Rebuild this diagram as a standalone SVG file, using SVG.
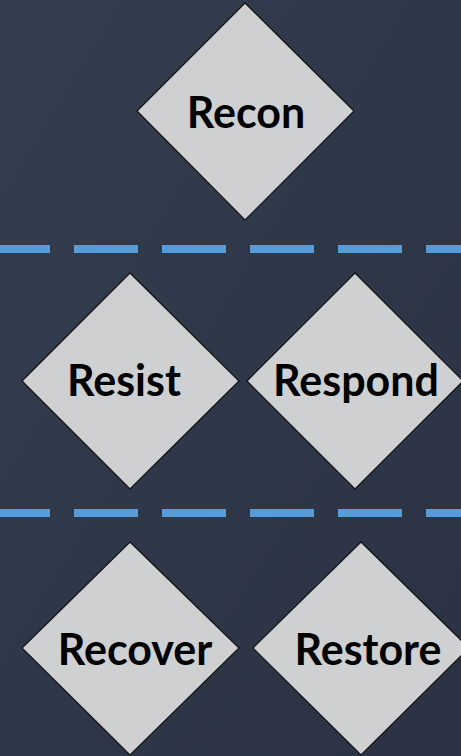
<svg xmlns="http://www.w3.org/2000/svg" width="461" height="756" viewBox="0 0 461 756">
  <style>
    .bg { fill: #2f3848; }
    .diamond { fill: #cfd0d2; stroke: #111111; stroke-width: 1.2; }
    .label { font-family: "Lato", "Open Sans", "Liberation Sans", sans-serif; font-weight: bold; font-size: 43px; fill: #000000; text-anchor: middle; }
    .sep { stroke: #5b9bd5; stroke-width: 8; stroke-dasharray: 64 24; stroke-dashoffset: 14; fill: none; }
  </style>
  <defs>
    <linearGradient id="bgGrad" x1="0" y1="0" x2="1" y2="1">
      <stop offset="0" stop-color="#353e50"/>
      <stop offset="0.5" stop-color="#2f3849"/>
      <stop offset="1" stop-color="#2a3243"/>
    </linearGradient>
  </defs>
  <rect x="0" y="0" width="461" height="756" style="fill:url(#bgGrad)"/>

  <g id="separators">
    <line class="sep" x1="0" y1="249" x2="461" y2="249"/>
    <line class="sep" x1="0" y1="513" x2="461" y2="513"/>
  </g>

  <g id="recon">
    <polygon class="diamond" points="245,3 354,111 245,220 137,111"/>
    <text class="label" x="246" y="128">Recon</text>
  </g>
  <g id="resist">
    <polygon class="diamond" points="130,273 239,381 130,489 22,381"/>
    <text class="label" x="124" y="396">Resist</text>
  </g>
  <g id="respond">
    <polygon class="diamond" points="355,273 463,381 355,489 247,381"/>
    <text class="label" x="356" y="396">Respond</text>
  </g>
  <g id="recover">
    <polygon class="diamond" points="130,542 239,648 130,755 22,648"/>
    <text class="label" x="135" y="665">Recover</text>
  </g>
  <g id="restore">
    <polygon class="diamond" points="361,542 469,648 361,755 253,648"/>
    <text class="label" x="368" y="665">Restore</text>
  </g>
</svg>
